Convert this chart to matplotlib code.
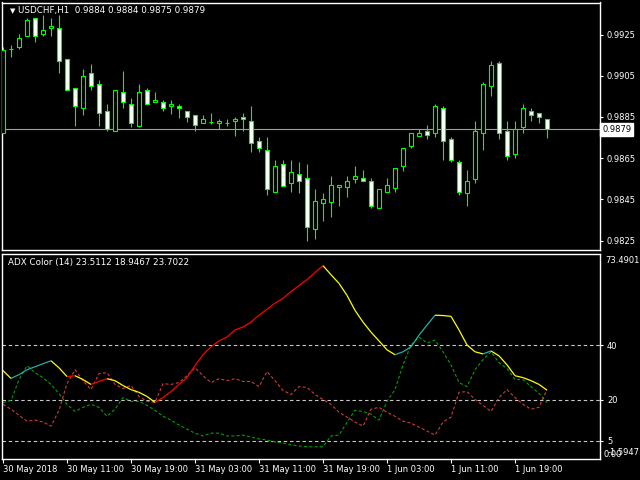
import numpy as np
import matplotlib.pyplot as plt

# USDCHF H1 candles (oldest first)
opens = [0.98770, 0.99181, 0.99189, 0.99242, 0.99332, 0.99252, 0.99283, 0.99283, 0.99132, 0.98991,
         0.98892, 0.99064, 0.99011, 0.98879, 0.98782, 0.98972, 0.98913, 0.98804, 0.98981, 0.98923,
         0.98923, 0.98904, 0.98904, 0.98879, 0.98860, 0.98821, 0.98827, 0.98821, 0.98821, 0.98831,
         0.98850, 0.98831, 0.98733, 0.98689, 0.98488, 0.98623, 0.98527, 0.98574, 0.98553, 0.98308,
         0.98430, 0.98439, 0.98509, 0.98509, 0.98551, 0.98553, 0.98539, 0.98410, 0.98488, 0.98507,
         0.98610, 0.98707, 0.98760, 0.98782, 0.98772, 0.98894, 0.98743, 0.98631, 0.98480, 0.98551,
         0.98772, 0.98999, 0.99113, 0.98782, 0.98670, 0.98799, 0.98879, 0.98870, 0.98840]
highs = [0.99192, 0.99202, 0.99254, 0.99332, 0.99332, 0.99343, 0.99332, 0.99343, 0.99132, 0.98991,
         0.99085, 0.99105, 0.99032, 0.98915, 0.98981, 0.99075, 0.98944, 0.99012, 0.98991, 0.98973,
         0.98934, 0.98934, 0.98913, 0.98879, 0.98860, 0.98860, 0.98871, 0.98840, 0.98840, 0.98850,
         0.98871, 0.98905, 0.98754, 0.98754, 0.98642, 0.98642, 0.98642, 0.98632, 0.98623, 0.98501,
         0.98482, 0.98564, 0.98519, 0.98564, 0.98613, 0.98594, 0.98553, 0.98500, 0.98555, 0.98602,
         0.98699, 0.98772, 0.98790, 0.98811, 0.98913, 0.98904, 0.98753, 0.98642, 0.98594, 0.98832,
         0.99020, 0.99124, 0.99124, 0.98832, 0.98832, 0.98913, 0.98894, 0.98870, 0.98840]
lows = [0.98770, 0.99143, 0.99178, 0.99242, 0.99216, 0.99242, 0.99242, 0.99064, 0.98981, 0.98808,
        0.98858, 0.98979, 0.98808, 0.98780, 0.98782, 0.98892, 0.98799, 0.98799, 0.98913, 0.98923,
        0.98877, 0.98866, 0.98847, 0.98827, 0.98780, 0.98821, 0.98817, 0.98792, 0.98808, 0.98760,
        0.98780, 0.98678, 0.98678, 0.98469, 0.98488, 0.98517, 0.98488, 0.98480, 0.98250, 0.98259,
        0.98347, 0.98366, 0.98420, 0.98459, 0.98527, 0.98537, 0.98410, 0.98410, 0.98488, 0.98488,
        0.98590, 0.98697, 0.98760, 0.98741, 0.98751, 0.98639, 0.98629, 0.98469, 0.98420, 0.98527,
        0.98688, 0.98950, 0.98741, 0.98639, 0.98649, 0.98770, 0.98829, 0.98819, 0.98750]
closes = [0.99173, 0.99180, 0.99234, 0.99322, 0.99244, 0.99273, 0.99293, 0.99121, 0.98981, 0.98902,
          0.99050, 0.98999, 0.98870, 0.98792, 0.98981, 0.98923, 0.98821, 0.98972, 0.98913, 0.98934,
          0.98894, 0.98913, 0.98894, 0.98850, 0.98811, 0.98840, 0.98827, 0.98831, 0.98821, 0.98840,
          0.98840, 0.98723, 0.98697, 0.98498, 0.98613, 0.98517, 0.98584, 0.98537, 0.98318, 0.98443,
          0.98451, 0.98519, 0.98519, 0.98539, 0.98563, 0.98537, 0.98420, 0.98500, 0.98519, 0.98602,
          0.98699, 0.98772, 0.98772, 0.98762, 0.98904, 0.98733, 0.98639, 0.98488, 0.98539, 0.98782,
          0.99011, 0.99103, 0.98772, 0.98660, 0.98792, 0.98894, 0.98860, 0.98850, 0.98790]

# ADX Color (14) buffers
adx = [30.7, 27.8, 29.2, 31.0, 32.1, 33.2, 34.3, 31.7, 28.5, 28.8,
       27.4, 25.6, 26.7, 27.7, 27.0, 25.2, 23.7, 22.7, 21.2, 19.0,
       20.8, 23.0, 25.6, 28.1, 32.5, 36.5, 39.4, 41.6, 43.0, 45.6,
       46.7, 48.5, 51.0, 53.2, 55.4, 57.2, 59.7, 61.9, 64.1, 66.7,
       69.2, 65.9, 62.7, 58.3, 52.8, 48.5, 44.8, 41.6, 38.3, 36.5,
       37.6, 39.4, 43.7, 47.4, 51.0, 50.9, 50.6, 45.6, 40.1, 37.6,
       36.8, 37.9, 36.1, 32.8, 28.8, 28.1, 27.0, 25.6, 23.51]
plus_di = [19.0, 19.7, 27.4, 32.5, 29.9, 28.1, 25.6, 22.3, 18.3, 15.7,
           17.2, 18.3, 17.2, 13.9, 16.5, 20.8, 19.4, 19.4, 17.9, 16.1,
           13.9, 12.5, 10.7, 9.2, 7.7, 6.7, 7.7, 7.7, 6.7, 6.7,
           7.0, 6.3, 5.6, 5.2, 4.5, 4.1, 3.4, 3.0, 2.7, 2.7,
           2.7, 6.7, 7.0, 11.7, 16.1, 15.7, 14.7, 12.5, 19.4, 23.7,
           32.8, 40.1, 43.0, 40.8, 41.9, 37.6, 32.8, 26.3, 24.8, 31.0,
           34.7, 37.6, 33.6, 31.4, 27.4, 27.4, 24.8, 22.3, 18.95]
minus_di = [18.3, 16.5, 14.3, 12.1, 12.5, 11.8, 10.3, 16.1, 25.9, 31.0,
            27.0, 23.7, 29.6, 29.9, 25.6, 24.1, 25.2, 21.2, 19.4, 19.0,
            25.9, 25.6, 26.3, 28.8, 31.7, 28.8, 26.3, 27.7, 27.0, 27.7,
            26.7, 26.7, 24.8, 30.3, 27.0, 23.4, 21.9, 24.8, 24.5, 21.9,
            20.1, 18.3, 15.4, 13.6, 11.8, 10.3, 16.5, 17.2, 15.4, 13.9,
            12.1, 11.4, 9.9, 8.5, 7.0, 11.8, 13.6, 22.7, 23.0, 20.1,
            17.9, 15.7, 20.8, 23.7, 20.8, 18.3, 16.5, 17.2, 23.70]

levels = [40, 20, 5]
price_ticks = [0.9825, 0.9845, 0.9865, 0.9885, 0.9905, 0.9925]
time_pos = [0, 8, 16, 24, 32, 40, 48, 56, 64]
time_labels = ['30 May 2018', '30 May 11:00', '30 May 19:00', '31 May 03:00', '31 May 11:00',
               '31 May 19:00', '1 Jun 03:00', '1 Jun 11:00', '1 Jun 19:00']
last_price = 0.9879

plt.rcParams['font.family'] = ['DejaVu Sans']
plt.rcParams['lines.scale_dashes'] = False

W, H = 640, 480


def box(x0, y0, x1, y1):
    # pixel rectangle -> figure fraction
    return [x0 / W, 1 - y1 / H, (x1 - x0) / W, (y1 - y0) / H]


fig = plt.figure(figsize=(6.4, 4.8), dpi=100, facecolor='black')
ax = fig.add_axes(box(2, 2.5, 600, 250))
ax2 = fig.add_axes(box(2, 254, 600, 458.5))

for a in (ax, ax2):
    a.set_facecolor('black')
    for s in a.spines.values():
        s.set_color('white')
        s.set_linewidth(1.0)
    a.set_xlim(-0.125, 74.625)

# ---- candles ----
idx = np.arange(len(opens))
o = np.array(opens)
c = np.array(closes)
ax.vlines(idx, lows, highs, color='#00ff00', lw=0.8, zorder=2)
bull = c >= o
bottom = np.minimum(o, c)
height = np.abs(c - o)
ax.bar(idx[bull], height[bull], bottom=bottom[bull], width=0.5,
       facecolor='black', edgecolor='#00ff00', lw=0.8, zorder=3)
ax.bar(idx[~bull], height[~bull], bottom=bottom[~bull], width=0.5,
       facecolor='white', edgecolor='#00ff00', lw=0.8, zorder=3)

ax.axhline(last_price, color='#a0a0a0', lw=0.8, zorder=1)
ax.set_ylim(0.98204, 0.99406)
ax.yaxis.tick_right()
ax.set_yticks(price_ticks)
ax.set_yticklabels([f'{p:.4f}' for p in price_ticks])
ax.tick_params(axis='y', colors='white', labelsize=6, length=2, pad=3)
ax.set_xticks([])
ax.text(1.0035, last_price, f'{last_price:.4f}', transform=ax.get_yaxis_transform(),
        fontsize=6, color='black', va='center', ha='left',
        bbox=dict(boxstyle='square,pad=0.25', facecolor='white', edgecolor='white'))

fig.text(10 / W, 1 - 11 / H, '\u25bc', color='white', fontsize=5, va='center', ha='left')
fig.text(18 / W, 1 - 11 / H, 'USDCHF,H1  0.9884 0.9884 0.9875 0.9879', color='white',
         fontsize=6.3, va='center', ha='left')

# ---- ADX panel ----
for lv in levels:
    ax2.axhline(lv, color='#c8c8c8', lw=0.8, linestyle=(0, (2.5, 2.0)), zorder=1)

ax2.plot(idx, plus_di, color='#00a000', lw=0.8, linestyle=(0, (2.2, 1.6)), zorder=2)
ax2.plot(idx, minus_di, color='#d03a3a', lw=0.8, linestyle=(0, (2.2, 1.6)), zorder=2)

for i in range(1, len(adx)):
    if adx[i] > adx[i - 1]:
        col = '#20b2aa' if plus_di[i] > minus_di[i] else '#ff0000'
    else:
        col = '#ffff00'
    ax2.plot([i - 1, i], [adx[i - 1], adx[i]], color=col, lw=0.9, zorder=3,
             solid_capstyle='butt')

ax2.set_ylim(-1.5947, 73.4901)
ax2.yaxis.tick_right()
ax2.set_yticks(levels)
ax2.set_yticklabels([str(v) for v in levels])
ax2.tick_params(axis='y', colors='white', labelsize=6, length=2, pad=3)
ax2.text(1.0085, 73.4901 - 2.5, '73.4901', transform=ax2.get_yaxis_transform(),
         fontsize=6, color='white', va='center', ha='left')
ax2.text(1.0055, 0, '0.00', transform=ax2.get_yaxis_transform(),
         fontsize=6, color='white', va='center', ha='left')
ax2.text(1.0135, 0.5, '-1.5947', transform=ax2.get_yaxis_transform(),
         fontsize=6, color='white', va='center', ha='left')

ax2.set_xticks(time_pos)
ax2.set_xticklabels(time_labels, ha='left')
ax2.tick_params(axis='x', colors='white', labelsize=6, length=3, pad=2)

fig.text(8 / W, 1 - 263 / H, 'ADX Color (14) 23.5112 18.9467 23.7022', color='white',
         fontsize=6.3, va='center', ha='left')

fig.savefig('out.png', dpi=100, facecolor='black')
